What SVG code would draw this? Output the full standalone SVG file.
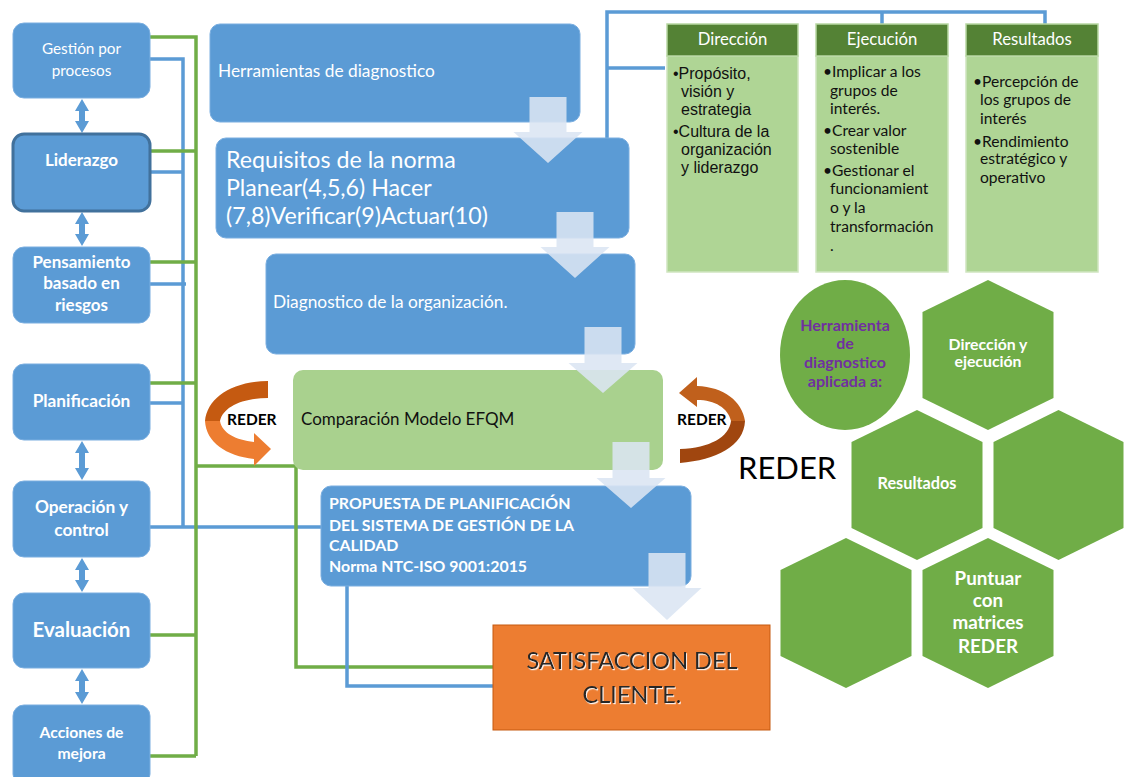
<svg xmlns="http://www.w3.org/2000/svg" width="1128" height="777" viewBox="0 0 1128 777">
<defs>
<style>
.lbox{fill:#5b9bd5;stroke:#7aaee0;stroke-width:1}
.fbox{fill:#5b9bd5;stroke:#7aaee0;stroke-width:1}
.lt{font-family:Lato,"Open Sans",sans-serif;fill:#fff;text-anchor:middle}
.ltb{font-family:Lato,"Open Sans",sans-serif;fill:#fff;text-anchor:middle;font-weight:bold}
.ft{font-family:Lato,"Open Sans",sans-serif;fill:#fff}
.dar{fill:#5b9bd5}
.down{fill:#dbe5f3;opacity:0.88}
.gl{fill:none;stroke:#70ad47;stroke-width:3.5}
.bl{fill:none;stroke:#5b9bd5;stroke-width:3.5}
.hdr{fill:#548235;stroke:#b8d7a3;stroke-width:1.5}
.bdy{fill:#afd595;stroke:#cfe5c0;stroke-width:1.5}
.ht{font-family:Lato,"Open Sans",sans-serif;fill:#fff;font-size:16.7px;text-anchor:middle}
.bt{font-family:Lato,"Open Sans",sans-serif;fill:#111;font-size:15.6px}
.bta{font-family:"Liberation Sans",Arial,sans-serif;fill:#111;font-size:16px}
.hex{fill:#70ad47}
.hx{font-family:Lato,"Open Sans",sans-serif;fill:#fff;font-weight:bold;text-anchor:middle}
.rd{font-family:Lato,"Open Sans",sans-serif;fill:#000;font-weight:bold;font-size:15.5px}
</style>
<filter id="sh" x="-10%" y="-20%" width="130%" height="150%">
<feDropShadow dx="1" dy="1.2" stdDeviation="0.6" flood-color="#ffffff" flood-opacity="0.9"/>
</filter>
</defs>
<rect width="1128" height="777" fill="#fff"/>

<g id="connectors">
<path class="bl" d="M150 59 H183 V527 M150 172 H183 M150 284 H186 M150 403 H183 M150 527 H322"/>
<path class="gl" d="M150 37 H196 V756 M150 151 H196 M150 262 H196 M150 383 H196 M150 635 H196 M150 756 H196"/>
<path class="gl" d="M196 466 H296 V667 H493"/>
<path class="bl" d="M347 586 V686 H493"/>
<path class="bl" d="M607 138 V12 H1045 V24 M882 12 V24 M607 68 H665"/>
<path class="dar" d="M82 99 L89 111 H85 V121 H89 L82 133 L75 121 H79 V111 H75 Z"/>
<path class="dar" d="M82 212 L89 224 H85 V234 H89 L82 246 L75 234 H79 V224 H75 Z"/>
<path class="dar" d="M82 441 L89 453 H85 V468 H89 L82 480 L75 468 H79 V453 H75 Z"/>
<path class="dar" d="M82 558 L89 570 H85 V580 H89 L82 592 L75 580 H79 V570 H75 Z"/>
<path class="dar" d="M82 669 L89 681 H85 V692 H89 L82 704 L75 692 H79 V681 H75 Z"/>
</g>

<g id="n-gestion"><rect class="lbox" x="13" y="23" width="137" height="75" rx="11"/>
<text class="lt" font-size="15.3" x="81.5" y="54">Gestión por</text><text class="lt" font-size="15.3" x="81.5" y="76">procesos</text></g>
<g id="n-liderazgo"><rect x="13" y="134" width="137" height="77" rx="11" fill="#5b9bd5" stroke="#41719c" stroke-width="3"/>
<text class="ltb" font-size="17" x="81.5" y="166">Liderazgo</text></g>
<g id="n-pensamiento"><rect class="lbox" x="13" y="247" width="137" height="76" rx="11"/>
<text class="ltb" font-size="17" x="81.5" y="268">Pensamiento</text><text class="ltb" font-size="17" x="81.5" y="289">basado en</text><text class="ltb" font-size="17" x="81.5" y="311">riesgos</text></g>
<g id="n-planificacion"><rect class="lbox" x="13" y="364" width="137" height="76" rx="11"/>
<text class="ltb" font-size="17.3" x="81.5" y="407">Planificación</text></g>
<g id="n-operacion"><rect class="lbox" x="13" y="481" width="137" height="76" rx="11"/>
<text class="ltb" font-size="17.3" x="81.5" y="513">Operación y</text><text class="ltb" font-size="17.3" x="81.5" y="536">control</text></g>
<g id="n-evaluacion"><rect class="lbox" x="13" y="593" width="137" height="75" rx="11"/>
<text class="ltb" font-size="20.5" x="81.5" y="637">Evaluación</text></g>
<g id="n-acciones"><rect class="lbox" x="13" y="705" width="137" height="80" rx="11"/>
<text class="ltb" font-size="15.7" x="81.5" y="738">Acciones de</text><text class="ltb" font-size="15.7" x="81.5" y="759">mejora</text></g>

<g id="n-herramientas"><rect class="fbox" x="210" y="24" width="370" height="98" rx="10"/>
<text class="ft" font-size="17.3" x="218" y="77">Herramientas de diagnostico</text></g>
<g id="n-requisitos"><rect class="fbox" x="216" y="138" width="413" height="100" rx="10"/>
<text class="ft" font-size="23.2" x="226" y="168">Requisitos de la norma</text><text class="ft" font-size="23.2" x="226" y="196">Planear(4,5,6) Hacer</text><text class="ft" font-size="23.2" x="226" y="224">(7,8)Verificar(9)Actuar(10)</text></g>
<g id="n-diagnostico"><rect class="fbox" x="266" y="254" width="369" height="100" rx="10"/>
<text class="ft" font-size="17.3" x="273" y="308">Diagnostico de la organización.</text></g>
<g id="n-comparacion"><rect x="293" y="370" width="370" height="100" rx="10" fill="#a9d18e"/>
<text font-family="Lato,'Open Sans',sans-serif" fill="#111" font-size="17" x="301" y="425">Comparación Modelo EFQM</text></g>
<g id="n-propuesta"><rect class="fbox" x="321" y="486" width="370" height="100" rx="10"/>
<text class="ft" font-weight="bold" font-size="15.9" x="329" y="509">PROPUESTA DE PLANIFICACIÓN</text>
<text class="ft" font-weight="bold" font-size="15.9" x="329" y="531">DEL SISTEMA DE GESTIÓN DE LA</text>
<text class="ft" font-weight="bold" font-size="15.9" x="329" y="551">CALIDAD</text>
<text class="ft" font-weight="bold" font-size="15.9" x="329" y="572">Norma NTC-ISO 9001:2015</text></g>
<g id="n-satisfaccion"><rect x="493" y="625" width="277" height="105" fill="#ed7d31" stroke="#c55a11" stroke-width="1"/>
<text font-family="Lato,'Open Sans',sans-serif" fill="#262626" font-size="23.5" text-anchor="middle" filter="url(#sh)" x="632" y="669">SATISFACCION DEL</text>
<text font-family="Lato,'Open Sans',sans-serif" fill="#262626" font-size="23.5" text-anchor="middle" filter="url(#sh)" x="632" y="703">CLIENTE.</text></g>

<g id="flow-arrows">
<path class="down" d="M529.5 97 H566.5 V132 H582.5 L548 163 L513.5 132 H529.5 Z"/>
<path class="down" d="M556.5 212 H593.5 V247 H609.5 L575 278 L540.5 247 H556.5 Z"/>
<path class="down" d="M584.5 327 H621.5 V363 H637.5 L603 393 L568.5 363 H584.5 Z"/>
<path class="down" d="M612.5 442 H649.5 V478 H665.5 L631 508 L596.5 478 H612.5 Z"/>
<path class="down" d="M648.5 553 H685.5 V588 H701.5 L667 620 L632.5 588 H648.5 Z"/>
</g>

<g id="n-reder-left">
<path d="M268 381 L268 398 C242 398 223 407 220 421 L205 421 C207 398 232 381 268 381 Z" fill="#c55a11"/>
<path d="M205 421 C206 442 226 456 254 459 L254 466 L271 449 L254 433 L254 442 C236 440 222 433 220 421 Z" fill="#ed7d31"/>
<text class="rd" x="227" y="425">REDER</text>
</g>
<g id="n-reder-right">
<path d="M697 386 C724 387 742 401 745 421 L731 421 C728 408 715 400 697 400 L697 407 L679 393 L697 377 Z" fill="#c0601c"/>
<path d="M745 421 C744 446 716 460 680 463 L680 449 C710 448 729 437 731 421 Z" fill="#a0460f"/>
<text class="rd" x="677" y="425">REDER</text>
</g>

<g id="n-direccion"><rect class="bdy" x="667" y="56" width="131" height="216"/><rect class="hdr" x="667" y="24" width="131" height="32"/>
<text class="ht" x="732.5" y="45">Dirección</text>
<text class="bta" x="673" y="79">•Propósito,</text><text class="bta" x="681" y="97">visión y</text><text class="bta" x="681" y="115">estrategia</text>
<text class="bta" x="673" y="137">•Cultura de la</text><text class="bta" x="681" y="155">organización</text><text class="bta" x="681" y="173">y liderazgo</text></g>
<g id="n-ejecucion"><rect class="bdy" x="816" y="56" width="132" height="216"/><rect class="hdr" x="816" y="24" width="132" height="32"/>
<text class="ht" x="882" y="45">Ejecución</text>
<text class="bt" x="823" y="77">•Implicar a los</text><text class="bt" x="830" y="96">grupos de</text><text class="bt" x="830" y="114">interés.</text>
<text class="bt" x="823" y="136">•Crear valor</text><text class="bt" x="830" y="154">sostenible</text>
<text class="bt" x="823" y="176">•Gestionar el</text><text class="bt" x="830" y="194">funcionamient</text><text class="bt" x="830" y="213">o y la</text><text class="bt" x="830" y="232">transformación</text><text class="bt" x="830" y="251">.</text></g>
<g id="n-resultados-col"><rect class="bdy" x="966" y="56" width="132" height="216"/><rect class="hdr" x="966" y="24" width="132" height="32"/>
<text class="ht" x="1032" y="45">Resultados</text>
<text class="bt" x="973" y="87">•Percepción de</text><text class="bt" x="980" y="105">los grupos de</text><text class="bt" x="980" y="124">interés</text>
<text class="bt" x="973" y="147">•Rendimiento</text><text class="bt" x="980" y="164">estratégico y</text><text class="bt" x="980" y="183">operativo</text></g>

<g id="n-herramienta-aplicada"><ellipse class="hex" cx="845" cy="355" rx="65" ry="75"/>
<text class="hx" style="fill:#7030a0" font-size="16" x="845" y="331">Herramienta</text>
<text class="hx" style="fill:#7030a0" font-size="16" x="845" y="349">de</text>
<text class="hx" style="fill:#7030a0" font-size="16" x="845" y="368">diagnostico</text>
<text class="hx" style="fill:#7030a0" font-size="16" x="845" y="387">aplicada a:</text></g>
<g id="n-hex-direccion"><polygon class="hex" points="988,280 1053.5,312 1053.5,398 988,430 922.5,398 922.5,312"/>
<text class="hx" font-size="15.8" x="988" y="350">Dirección  y</text><text class="hx" font-size="15.8" x="988" y="367">ejecución</text></g>
<g id="n-hex-resultados"><polygon class="hex" points="917,410 982.5,442 982.5,528 917,560 851.5,528 851.5,442"/>
<text class="hx" font-size="16.3" x="917" y="489">Resultados</text></g>
<g id="n-hex-empty1"><polygon class="hex" points="1058.5,410 1123.5,442 1123.5,528 1058.5,560 993.5,528 993.5,442"/></g>
<g id="n-hex-empty2"><polygon class="hex" points="846,538 911.5,570 911.5,656 846,688 780.5,656 780.5,570"/></g>
<g id="n-hex-puntuar"><polygon class="hex" points="988,538 1053.5,570 1053.5,656 988,688 922.5,656 922.5,570"/>
<text class="hx" font-size="18.8" x="988" y="585">Puntuar</text><text class="hx" font-size="18.8" x="988" y="607">con</text><text class="hx" font-size="18.8" x="988" y="629">matrices</text><text class="hx" font-size="18.8" x="988" y="653">REDER</text></g>

<g id="n-reder-big"><text font-family="Lato,'Open Sans',sans-serif" font-size="31" fill="#000" x="738" y="479">REDER</text></g>
</svg>
